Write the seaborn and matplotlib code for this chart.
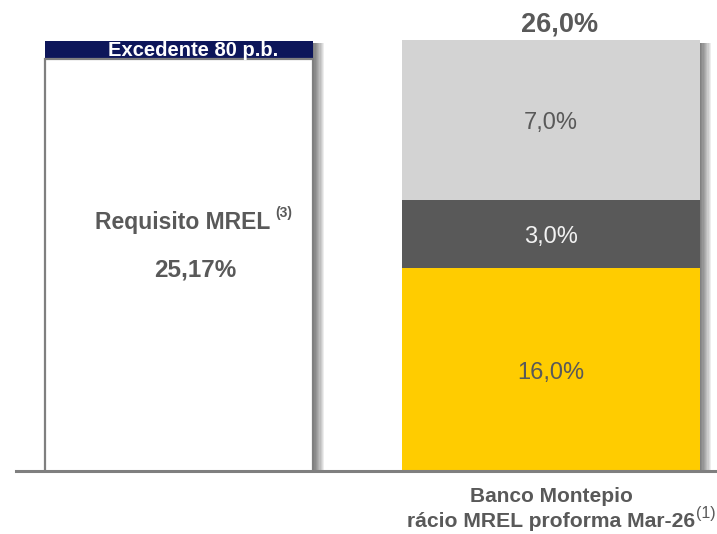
import matplotlib
matplotlib.use("Agg")
import matplotlib.pyplot as plt
import matplotlib.patheffects as pe
import numpy as np
import pandas as pd
import seaborn as sns

# --- data -------------------------------------------------------------
grupos = ["Requisito MREL", "Banco Montepio"]
requisito_mrel = 25.17          # % requirement
excedente = 0.80                # % surplus (80 p.b.)
camadas_montepio = ["Camada 1", "Camada 2", "Camada 3"]
valores_montepio = [16.0, 3.0, 7.0]
rotulos_montepio = ["16,0%", "3,0%", "7,0%"]
rotulo_total = "26,0%"
rotulo_requisito = "25,17%"
rotulo_excedente = "Excedente 80 p.b."
rotulo_grupo_1 = "Banco Montepio"
rotulo_grupo_2 = "rácio MREL proforma Mar-26"

# --- styling ----------------------------------------------------------
AZUL = "#0d165a"
CORES_MONTEPIO = ["#FFCC00", "#595959", "#D3D3D3"]
COR_TEXTO_SEG = ["#595959", "#F2F2F2", "#595959"]
CINZA_TEXTO = "#595959"
CINZA_LINHA = "#7f7f7f"

sns.set_theme(style="white")
plt.rcParams["font.family"] = ["Liberation Sans", "DejaVu Sans"]

fig = plt.figure(figsize=(7.17, 5.34), dpi=100)
ax = fig.add_axes([16 / 717, 63 / 534, 701 / 717, 471 / 534])

# soft drop shadow to the right of each column
sombra = [pe.SimplePatchShadow(offset=(d, -2), shadow_rgbFace="black", alpha=0.07)
          for d in np.arange(1.0, 8.5, 0.9)] + [pe.Normal()]

# left column: requirement plus surplus band on top
df_req = pd.DataFrame({"grupo": [grupos[0]], "valor": [requisito_mrel + excedente]})
sns.barplot(data=df_req, x="grupo", y="valor", order=grupos, width=0.72,
            color=AZUL, saturation=1, edgecolor=AZUL, linewidth=0, ax=ax)
ax.patches[-1].set_path_effects(sombra)

df_req2 = pd.DataFrame({"grupo": [grupos[0]], "valor": [requisito_mrel]})
sns.barplot(data=df_req2, x="grupo", y="valor", order=grupos, width=0.72,
            color="white", saturation=1, edgecolor=CINZA_LINHA, linewidth=1.6, ax=ax)

# right column: stacked layers, drawn from the cumulative top down
topos = np.cumsum(valores_montepio)
bases = topos - np.array(valores_montepio)
for i in range(len(valores_montepio) - 1, -1, -1):
    df_seg = pd.DataFrame({"grupo": [grupos[1]], "valor": [topos[i]]})
    sns.barplot(data=df_seg, x="grupo", y="valor", order=grupos, width=0.80,
                color=CORES_MONTEPIO[i], saturation=1, edgecolor=CORES_MONTEPIO[i],
                linewidth=0, ax=ax)
    if i == len(valores_montepio) - 1:
        ax.patches[-1].set_path_effects(sombra)

y0, y1 = 7.10, 27.754
ax.set_ylim(y0, y1)
ax.set_xlim(-0.4382, 1.4462)

# segment labels, centred on the visible part of each layer
for i, rot in enumerate(rotulos_montepio):
    yc = (max(bases[i], y0) + topos[i]) / 2
    ax.annotate(rot, xy=(1, yc), xytext=(0, -2.5), textcoords="offset points",
                ha="center", va="center", fontsize=17, color=COR_TEXTO_SEG[i])

# total above the stack
ax.annotate(rotulo_total, xy=(1.024, topos[-1]), xytext=(0, 5.8), textcoords="offset points",
            ha="center", va="baseline", fontsize=19.5, fontweight="bold",
            color=CINZA_TEXTO, annotation_clip=False)

# surplus band label
ax.annotate(rotulo_excedente, xy=(0.038, requisito_mrel + excedente / 2), xytext=(0, -0.6),
            textcoords="offset points", ha="center", va="center",
            fontsize=14.5, fontweight="bold", color="white", zorder=6)

# requirement labels inside left column
t_req = ax.text(0.011, 18.0, grupos[0], ha="center", va="center", fontsize=16.5,
                fontweight="bold", color=CINZA_TEXTO)
ax.annotate("(3)", xycoords=t_req, xy=(1, 0.62), xytext=(3, 0), textcoords="offset points",
            ha="left", va="bottom", fontsize=10, fontweight="bold", color=CINZA_TEXTO)
ax.text(0.043, 15.9, rotulo_requisito, ha="center", va="center", fontsize=17.5,
        fontweight="bold", color=CINZA_TEXTO)

# category label under the right column
trans = ax.get_xaxis_transform()
ax.annotate(rotulo_grupo_1, xy=(1, 0), xycoords=trans, xytext=(0, -18), textcoords="offset points",
            ha="center", va="center", fontsize=15, fontweight="bold", color=CINZA_TEXTO,
            annotation_clip=False)
t_g2 = ax.annotate(rotulo_grupo_2, xy=(1, 0), xycoords=trans, xytext=(0, -36.5),
                   textcoords="offset points", ha="center", va="center", fontsize=15.2,
                   fontweight="bold", color=CINZA_TEXTO, annotation_clip=False)
ax.annotate("(1)", xycoords=t_g2, xy=(1, 0.55), xytext=(0.5, 0), textcoords="offset points",
            ha="left", va="bottom", fontsize=11.5, color=CINZA_TEXTO)

# axes dressing
ax.set_xlabel("")
ax.set_ylabel("")
ax.set_xticks([])
ax.set_yticks([])
for lado in ["left", "right", "top"]:
    ax.spines[lado].set_visible(False)
ax.spines["bottom"].set_color(CINZA_LINHA)
ax.spines["bottom"].set_linewidth(2.2)
ax.spines["bottom"].set_zorder(5)

fig.savefig("out.png", dpi=100)
